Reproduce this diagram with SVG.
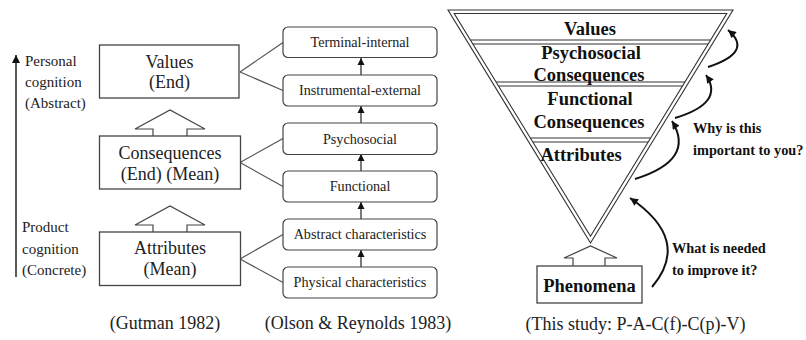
<svg xmlns="http://www.w3.org/2000/svg" width="806" height="340" viewBox="0 0 806 340">
<defs>
<style>
.t{font-family:"Liberation Serif","Times New Roman",serif;fill:#222}
.g{font-size:18px;text-anchor:middle}
.s{font-size:15px}
.o{font-size:14.2px;text-anchor:middle}
.b{font-family:"Liberation Serif","Times New Roman",serif;font-weight:bold;fill:#111}
.bb{font-size:18.5px;text-anchor:middle}
.bq{font-size:14.3px}
.box{fill:#fff;stroke:#444;stroke-width:1.3}
.rbox{fill:#fff;stroke:#444;stroke-width:1.2}
.ln{fill:none;stroke:#555;stroke-width:1.2}
.tri{fill:none;stroke:#333;stroke-width:1.1}
.hol{fill:#fff;stroke:#444;stroke-width:1.2}
.cur{fill:none;stroke:#111;stroke-width:2}
.sa{fill:none;stroke:#222;stroke-width:1.2}
</style>
<marker id="ua" viewBox="0 0 10 10" refX="10" refY="5" markerWidth="7" markerHeight="8" markerUnits="userSpaceOnUse" orient="auto">
<path d="M0,0 L10,5 L0,10 Z" fill="#111"/>
</marker>
<marker id="big" viewBox="0 0 10 10" refX="10" refY="5" markerWidth="9" markerHeight="8" markerUnits="userSpaceOnUse" orient="auto">
<path d="M0,0 L10,5 L0,10 Z" fill="#111"/>
</marker>
</defs>

<g id="connectors">
<path class="ln" d="M240,72 L283,42.5 M240,72 L283,90.5"/>
<path class="ln" d="M240,162.5 L283,138.5 M240,162.5 L283,186.5"/>
<path class="ln" d="M240,259 L283,234.5 M240,259 L283,282.5"/>
<path class="sa" d="M361,75 L361,58" marker-end="url(#ua)"/>
<path class="sa" d="M361,123 L361,106" marker-end="url(#ua)"/>
<path class="sa" d="M361,171 L361,154" marker-end="url(#ua)"/>
<path class="sa" d="M361,219 L361,202" marker-end="url(#ua)"/>
<path class="sa" d="M361,267 L361,250" marker-end="url(#ua)"/>
<path class="hol" d="M153,136 L153,129 L135,129 L170,110 L205,129 L187,129 L187,136"/>
<path class="hol" d="M153,232 L153,225 L135,225 L170,206 L205,225 L187,225 L187,232"/>
<path d="M16,277 L16,55" fill="none" stroke="#222" stroke-width="1.5" marker-end="url(#big)"/>
<path class="hol" d="M573,266 L573,258 L564,258 L590.5,246 L617,258 L605,258 L605,266"/>
<path class="cur" d="M652,287 Q692,240 630,198" marker-end="url(#big)"/>
<path class="cur" d="M635,179 Q696,160 672,121" marker-end="url(#big)"/>
<path class="cur" d="M675,118 Q725,103 706,75" marker-end="url(#big)"/>
<path class="cur" d="M708,67 Q754,52 728,30" marker-end="url(#big)"/>
</g>

<g id="axis-labels">
<text class="t s" x="25" y="66">Personal</text>
<text class="t s" x="25" y="87">cognition</text>
<text class="t s" x="25" y="108">(Abstract)</text>
<text class="t s" x="22" y="232">Product</text>
<text class="t s" x="22" y="254">cognition</text>
<text class="t s" x="22" y="275">(Concrete)</text>
</g>

<g id="g-values">
<rect class="box" x="99.5" y="45" width="139.5" height="53"/>
<text class="t g" x="169.5" y="68">Values</text>
<text class="t g" x="169.5" y="88">(End)</text>
</g>
<g id="g-consequences">
<rect class="box" x="99.5" y="136" width="141" height="53"/>
<text class="t g" x="170" y="159">Consequences</text>
<text class="t g" x="170" y="180">(End) (Mean)</text>
</g>
<g id="g-attributes">
<rect class="box" x="99.5" y="232" width="141" height="53.5"/>
<text class="t g" x="170" y="254">Attributes</text>
<text class="t g" x="170" y="275">(Mean)</text>
</g>

<g id="o-terminal">
<rect class="rbox" x="283" y="27" width="154" height="30.5" rx="5"/>
<text class="t o" x="360" y="47">Terminal-internal</text>
</g>
<g id="o-instrumental">
<rect class="rbox" x="283" y="75" width="154" height="31" rx="5"/>
<text class="t o" x="360" y="95">Instrumental-external</text>
</g>
<g id="o-psychosocial">
<rect class="rbox" x="283" y="123" width="154" height="31.5" rx="5"/>
<text class="t o" x="360" y="143.5">Psychosocial</text>
</g>
<g id="o-functional">
<rect class="rbox" x="283" y="171" width="154" height="31" rx="5"/>
<text class="t o" x="360" y="191">Functional</text>
</g>
<g id="o-abstract">
<rect class="rbox" x="283" y="219" width="154" height="31" rx="5"/>
<text class="t o" x="360" y="239">Abstract characteristics</text>
</g>
<g id="o-physical">
<rect class="rbox" x="283" y="267" width="154" height="31" rx="5"/>
<text class="t o" x="360" y="287">Physical characteristics</text>
</g>

<g id="pyramid">
<path class="tri" d="M448,10 L733,10 L590.5,243 Z"/>
<path class="tri" d="M454.2,13.5 L726.8,13.5 L590.5,236.3 Z"/>
<path class="tri" d="M470.5,40 L710.5,40 M472.9,44 L708.1,44"/>
<path class="tri" d="M496.1,82 L684.9,82 M498.6,86 L682.4,86"/>
<path class="tri" d="M530.4,138 L650.6,138 M532.8,142 L648.2,142"/>
</g>
<g id="p-values"><text class="b bb" x="590" y="35">Values</text></g>
<g id="p-psychosocial">
<text class="b bb" x="591" y="59">Psychosocial</text>
<text class="b bb" x="589" y="81">Consequences</text>
</g>
<g id="p-functional">
<text class="b bb" x="590" y="105">Functional</text>
<text class="b bb" x="589" y="128">Consequences</text>
</g>
<g id="p-attributes"><text class="b bb" x="581" y="161">Attributes</text></g>
<g id="p-phenomena">
<rect class="box" x="537" y="266" width="105" height="37"/>
<text class="b bb" x="589.5" y="292">Phenomena</text>
</g>

<g id="questions">
<text class="b bq" x="693" y="133">Why is this</text>
<text class="b bq" x="693" y="155">important to you?</text>
<text class="b bq" x="672" y="253">What is needed</text>
<text class="b bq" x="672" y="275">to improve it?</text>
</g>

<g id="captions">
<text class="t g" x="165" y="329">(Gutman 1982)</text>
<text class="t g" x="358" y="329">(Olson &amp; Reynolds 1983)</text>
<text class="t g" x="635.5" y="330">(This study: P-A-C(f)-C(p)-V)</text>
</g>
</svg>
